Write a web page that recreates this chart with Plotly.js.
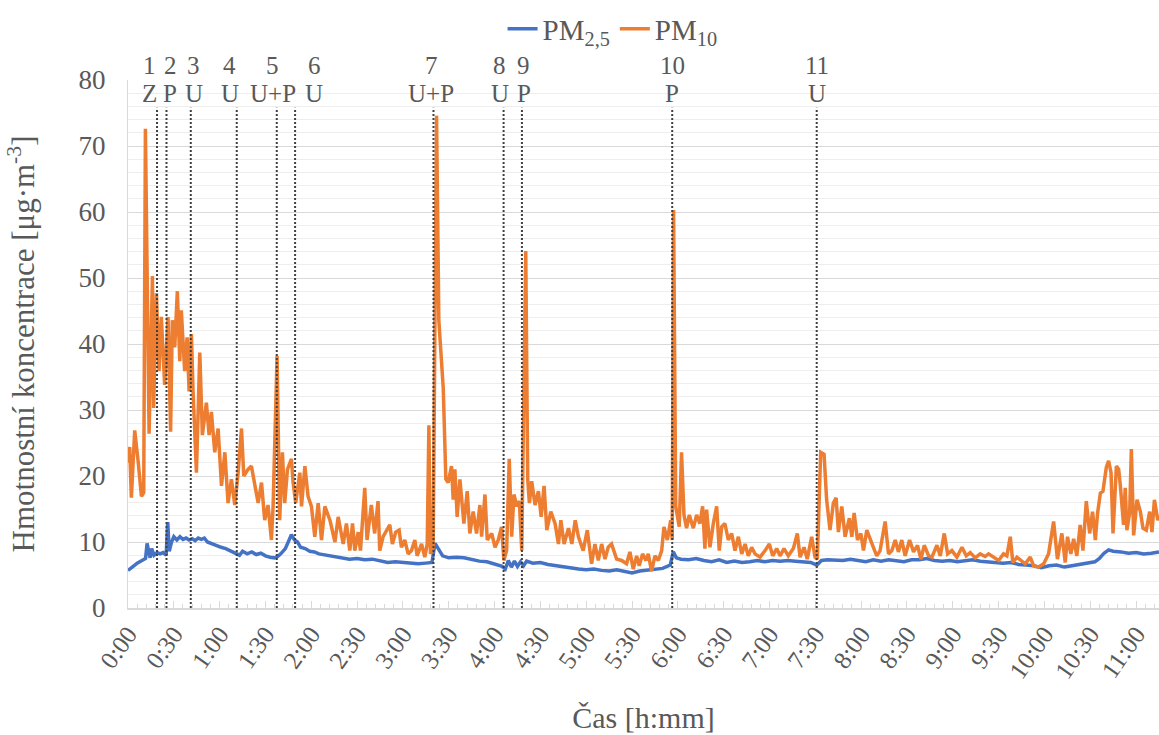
<!DOCTYPE html>
<html><head><meta charset="utf-8">
<script src="https://cdn.plot.ly/plotly-3.0.1.min.js"></script>
<style>html,body{margin:0;padding:0;background:#fff}#chart{width:1159px;height:735px}</style>
</head><body><div id="chart"></div>
<script>
// time in minutes from start
const pm25Time = [0,2,4,6,8,10,11.5,12.5,13.5,14.5,15.5,17,19,21,23,25,26,27,28.5,30,32,34,36,38,40,42,44,46,48,50,52,55,58,61,64,67,70,73,75,78,81,84,87,90,93,96,98,100,103,105,107,109,111,113,116,119,122,125,130,135,140,145,150,155,160,165,170,175,180,185,190,195,199,201,203,206,210,215,220,225,230,235,240,245,247,249,251,253,255,257,259,261,265,270,275,280,285,290,295,300,305,310,315,320,325,330,335,340,345,350,355,357,359,362,367,372,377,382,387,392,397,402,407,412,417,422,427,432,437,442,447,451,454,458,463,468,473,478,483,488,493,498,503,508,513,518,523,528,533,538,543,548,553,558,563,568,573,578,583,588,593,598,603,608,613,618,623,628,633,636,639,642,645,650,655,660,665,670,675];
const pm25Val = [5.7,6.0,6.4,6.8,7.0,7.3,7.5,9.8,8.6,7.6,9.0,8.0,8.4,8.2,8.4,8.0,13.0,8.6,10.0,10.8,10.3,10.8,10.4,10.6,10.3,10.5,10.2,10.6,10.4,10.6,10.0,9.7,9.5,9.2,9.0,8.7,8.4,8.0,8.6,8.2,8.5,8.1,8.3,7.9,7.7,7.6,7.8,8.2,9.0,10.2,11.1,10.3,10.0,9.2,9.0,8.6,8.5,8.2,8.0,7.8,7.6,7.4,7.5,7.3,7.4,7.1,6.9,7.0,6.9,6.8,6.7,6.8,6.9,9.8,9.0,7.9,7.6,7.7,7.6,7.3,7.1,7.0,6.6,6.3,5.9,7.2,6.2,7.1,6.3,7.0,6.4,7.1,6.8,6.9,6.6,6.4,6.2,6.1,5.9,5.8,5.9,5.7,5.6,5.8,5.5,5.3,5.6,5.7,5.8,6.0,6.5,8.5,7.6,7.4,7.3,7.5,7.2,7.0,7.3,6.9,7.1,6.9,7.0,7.2,7.0,7.2,7.1,7.2,7.1,7.0,6.9,6.5,7.2,7.3,7.3,7.2,7.4,7.2,7.0,7.3,7.1,7.3,7.2,7.0,7.3,7.3,7.5,7.2,7.1,7.2,7.0,7.1,7.3,7.1,7.0,7.0,6.8,6.9,6.6,6.5,6.4,6.1,6.4,6.5,6.2,6.4,6.6,6.9,7.0,7.5,8.3,8.8,8.6,8.5,8.3,8.4,8.2,8.3,8.5];

const pm10Time = [0,1.1,2.2,4.4,6.6,8.8,10.3,11.4,13.8,16.0,16.8,18.6,20.3,21.8,24.0,26.2,27.9,29.0,30.6,32.3,33.9,34.9,37.1,38.7,40.0,41.5,42.6,44.8,47.0,48.7,51.3,53.1,54.6,56.8,59.0,61.2,63.4,65.5,67.7,69.9,72.1,74.3,75.8,78.6,80.8,83.0,85.2,87.4,89.5,91.7,93.9,95.0,97.6,99.3,101.1,102.6,104.4,107.0,108.1,109.8,112.5,113.6,115.8,117.9,120.1,122.3,124.5,126.7,128.9,132.2,135.5,137.6,140.9,143.0,145.2,147.0,148.5,150.7,152.2,155.0,156.5,159.3,161.5,163.7,164.8,167.0,171.4,173.1,175.3,177.5,179.0,181.2,183.4,185.6,187.8,189.3,192.2,194.3,195.9,197.0,198.0,199.8,202.0,203.5,206.4,208.1,209.6,211.8,212.9,214.0,215.5,217.3,219.9,222.1,223.8,226.0,228.2,230.4,231.5,233.7,235.2,238.1,240.3,242.4,244.6,246.1,247.9,249.6,251.2,252.7,254.5,256.2,257.8,260.4,261.7,262.8,264.3,266.5,268.7,270.5,272.4,274.2,276.8,279.6,281.8,283.4,285.5,288.4,290.6,292.8,294.9,298.0,300.7,303.5,305.7,307.9,310.1,312.3,314.4,316.6,319.9,323.2,326.4,328.6,330.8,333.0,334.7,336.9,339.1,340.6,342.8,345.0,347.2,349.4,350.9,353.1,355.3,356.3,357.2,358.6,360.9,362.4,364.0,365.7,367.5,370.1,372.3,374.4,376.2,377.7,378.8,381.0,383.2,385.4,387.1,388.7,390.8,393.0,395.2,397.4,399.6,401.8,404.0,406.1,408.3,410.5,413.8,417.1,419.9,422.1,424.7,426.9,429.5,432.3,435.6,438.2,440.0,442.6,444.7,447.6,449.8,451.3,453.5,455.7,457.4,459.6,461.8,463.6,465.1,467.3,469.5,472.3,473.9,475.4,477.6,479.8,481.5,483.7,485.9,488.0,490.2,492.4,495.7,497.9,500.1,502.3,504.4,506.6,508.8,511.7,514.3,516.9,519.1,521.3,524.2,526.3,529.6,531.8,534.4,536.6,539.4,542.7,546.0,548.8,551.4,554.7,557.9,561.2,563.4,566.7,570.0,573.2,575.4,577.6,579.3,582.0,584.6,587.4,590.7,592.9,596.2,599.5,602.7,606.0,608.5,611.4,613.6,615.1,617.3,619.1,621.2,623.4,625.2,627.4,629.6,631.5,633.3,634.8,636.6,638.3,640.5,642.0,643.6,644.9,647.1,648.6,649.7,651.8,652.9,654.0,655.8,656.9,658.4,660.6,662.8,664.5,666.7,668.9,670.4,672.0,674.2,675];
const pm10Val = [22.0,24.4,16.7,26.9,22.3,16.9,17.5,72.6,26.4,50.3,30.3,47.7,35.9,44.1,33.8,44.1,26.7,43.6,39.5,48.0,37.4,45.1,35.9,41.0,32.8,41.5,32.8,20.5,38.7,26.2,31.1,26.2,29.7,23.6,27.2,18.5,23.6,15.9,19.5,15.6,20.5,27.2,20.0,21.0,21.5,18.5,15.9,19.0,13.3,15.6,10.3,15.4,38.2,13.3,23.6,15.9,21.0,22.6,19.0,15.9,20.5,15.4,21.5,16.9,15.4,10.8,15.9,10.3,15.4,13.3,10.0,13.8,9.7,12.8,8.7,12.8,8.7,11.5,8.7,18.2,10.3,15.6,11.3,16.2,8.7,10.8,12.6,9.7,11.5,11.8,9.2,10.3,8.2,8.7,10.3,7.9,9.7,7.7,9.7,27.7,8.2,9.2,74.6,43.6,33.3,19.5,19.0,21.5,16.4,21.0,13.8,19.5,12.8,17.7,11.3,14.6,11.3,15.6,10.8,17.2,10.3,11.3,9.2,10.3,12.3,7.2,8.7,22.6,10.8,17.2,15.4,16.2,8.7,54.1,19.5,15.9,19.2,15.6,17.7,13.8,18.5,11.8,14.6,12.8,9.7,13.3,9.7,12.1,9.7,13.3,10.8,8.7,11.8,6.7,9.7,7.2,9.7,7.4,9.2,9.7,7.4,7.2,6.7,8.5,5.9,7.9,6.4,8.2,7.2,8.2,5.6,7.9,7.2,8.7,12.3,10.3,13.3,10.3,60.3,15.4,12.3,23.6,14.1,12.1,14.1,12.1,14.1,12.8,15.4,9.0,14.9,9.2,12.8,15.4,8.7,12.3,12.8,10.3,11.3,8.7,10.8,8.2,9.7,7.9,9.2,8.2,7.7,8.7,9.7,7.9,9.0,7.9,9.0,7.9,9.0,11.3,7.7,9.2,7.4,10.8,7.7,7.4,23.6,23.3,16.4,11.8,15.9,16.7,11.5,15.4,10.8,13.6,10.8,14.4,10.3,11.3,8.7,11.8,10.3,9.2,7.9,8.7,13.1,8.2,8.7,10.3,8.5,10.3,7.9,10.3,8.5,9.5,7.4,9.5,7.9,7.7,9.5,7.9,11.3,8.2,8.7,7.7,9.2,7.9,8.4,7.6,8.2,7.8,8.2,7.7,7.2,8.2,7.9,10.8,6.9,7.7,7.2,6.7,7.7,6.4,6.2,6.7,8.2,13.1,7.4,11.3,6.9,10.8,8.2,10.5,7.9,12.6,8.7,16.2,11.3,14.6,10.3,14.4,17.4,17.7,21.3,22.3,20.5,11.3,21.5,21.0,18.5,12.6,18.2,11.8,14.4,24.1,11.0,16.4,14.6,12.1,11.8,14.6,11.5,16.4,13.3,14.0];

const tickMinutes = [0,30,60,90,120,150,180,210,240,270,300,330,360,390,420,450,480,510,540,570,600,630,660];
const tickLabels = ['0:00','0:30','1:00','1:30','2:00','2:30','3:00','3:30','4:00','4:30','5:00','5:30','6:00','6:30','7:00','7:30','8:00','8:30','9:00','9:30','10:00','10:30','11:00'];

const eventTimes = [19,25.2,41.1,71.2,97.4,109.4,200,245.9,257.9,356.3,450.9];
const eventNumbers = ['1','2','3','4','5','6','7','8','9','10','11'];
const eventTypes = ['Z','P','U','U','U+P','U','U+P','U','P','P','U'];
const eventLineTop = 75.8;
const typeRowY = 78.0;
const labelShift = [-8,4,3,-7,-4,19,-2,-4,2,0,0];

const FONT = "'Liberation Serif', 'Times New Roman', serif";
const GRAY = '#595959';

const traces = [
  {x: pm25Time, y: pm25Val, type:'scatter', mode:'lines', name:'PM<sub>2,5</sub>',
   line:{color:'#4472C4', width:3.5}},
  {x: pm10Time, y: pm10Val, type:'scatter', mode:'lines', name:'PM<sub>10</sub>',
   line:{color:'#ED7D31', width:3.5}}
];

const shapes = eventTimes.map(t => ({
  type:'line', xref:'x', yref:'y', x0:t, x1:t, y0:0, y1:eventLineTop,
  line:{color:'#404040', width:2, dash:'2px,2px'}, layer:'above'
}));

const annotations = [];
eventTimes.forEach((t,i) => {
  annotations.push({x:t, y:1.028, xref:'x', yref:'paper', text:eventNumbers[i], showarrow:false,
    xshift:labelShift[i], font:{size:25, color:GRAY, family:FONT}, yanchor:'middle'});
  annotations.push({x:t, y:typeRowY, xref:'x', yref:'y', text:eventTypes[i], showarrow:false,
    xshift:labelShift[i], font:{size:25, color:GRAY, family:FONT}, yanchor:'middle'});
});

const layout = {
  width:1159, height:735,
  margin:{l:128, r:0, t:80, b:127},
  paper_bgcolor:'#ffffff', plot_bgcolor:'#ffffff',
  font:{family:FONT, color:GRAY, size:26},
  showlegend:true,
  legend:{orientation:'h', x:0.47, xanchor:'center', y:1.145, yanchor:'top',
          font:{size:29, color:GRAY, family:FONT}, bgcolor:'rgba(0,0,0,0)'},
  xaxis:{
    range:[0,675], tickmode:'array', tickvals:tickMinutes, ticktext:tickLabels,
    tickangle:-55, ticks:'inside', ticklen:7, tickcolor:'#d9d9d9', tickwidth:1,
    showgrid:false, zeroline:false, showline:true, linecolor:'#d9d9d9', linewidth:1.5,
    tickfont:{size:25, color:GRAY, family:FONT},
    minor:{tickmode:'linear', tick0:0, dtick:6, ticks:'inside', ticklen:4, tickcolor:'#d9d9d9', showgrid:false},
    title:{text:'Čas [h:mm]', font:{size:30, color:GRAY, family:FONT}, standoff:24}
  },
  yaxis:{
    range:[0,80], tick0:0, dtick:10, ticks:'', showgrid:true, gridcolor:'#d9d9d9', gridwidth:1,
    zeroline:false, showline:true, linecolor:'#d9d9d9', linewidth:1,
    ticklabelstandoff:16,
    tickfont:{size:27, color:GRAY, family:FONT},
    minor:{tick0:0, dtick:2, showgrid:true, gridcolor:'#eeeeee', gridwidth:1},
    title:{text:'Hmotnostní koncentrace [μg·m<sup>-3</sup>]', font:{size:31, color:GRAY, family:FONT}, standoff:34}
  },
  shapes: shapes,
  annotations: annotations
};

Plotly.newPlot('chart', traces, layout, {displayModeBar:false, staticPlot:true});
</script>
</body></html>
